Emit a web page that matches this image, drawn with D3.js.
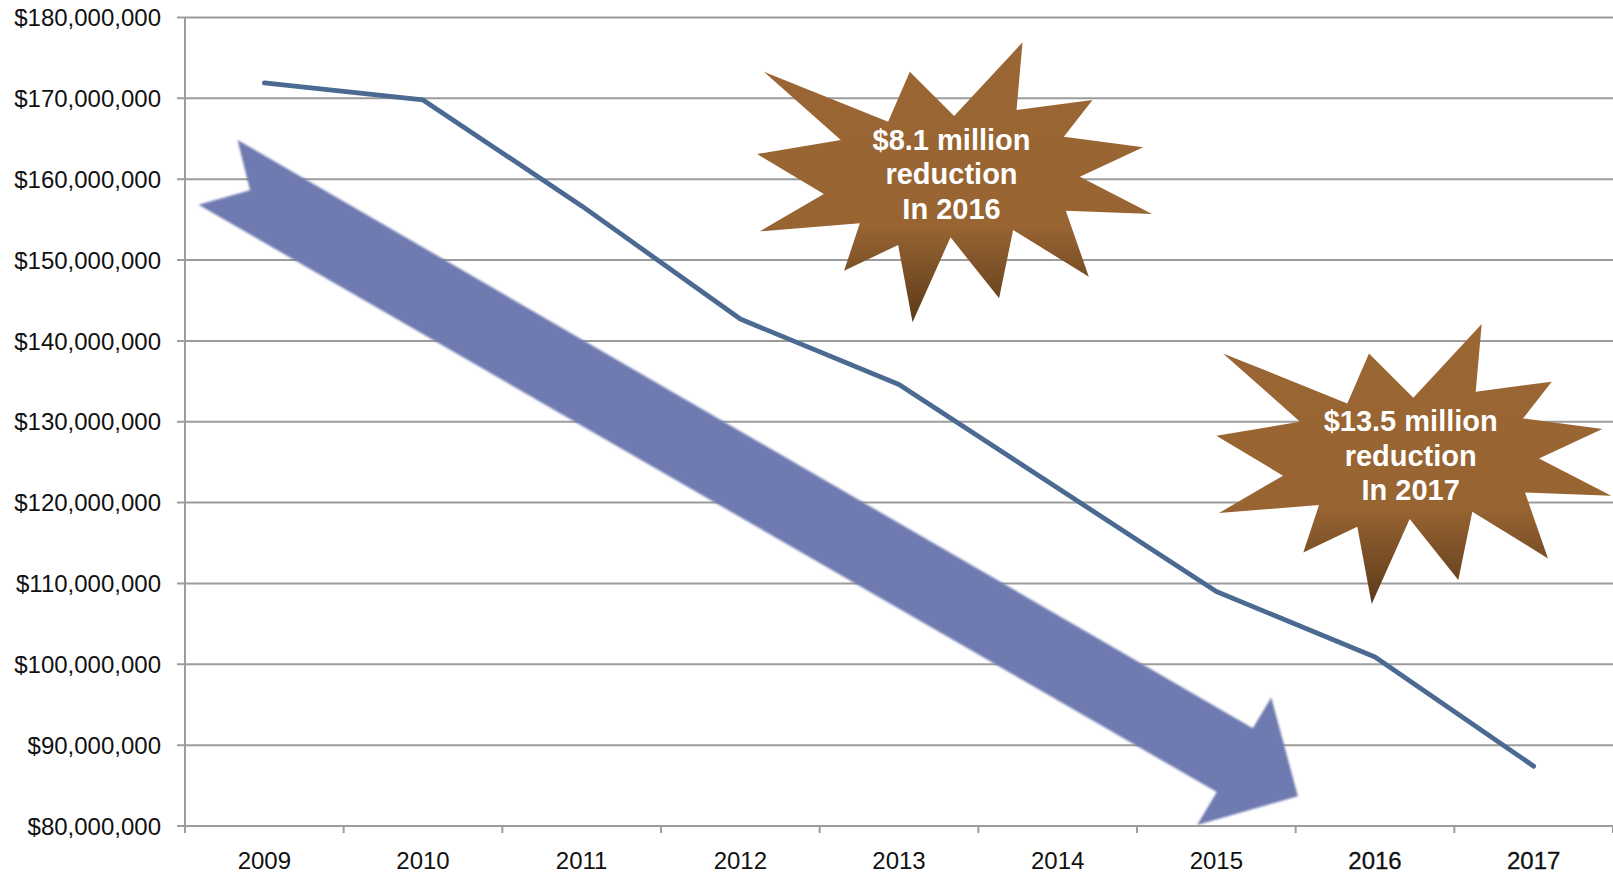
<!DOCTYPE html>
<html><head><meta charset="utf-8">
<script src="https://cdn.jsdelivr.net/npm/d3@7"></script>
<style>html,body{margin:0;padding:0;background:#fff;} svg{display:block}</style>
</head><body>
<svg id="chart" width="1613" height="873"></svg>
<script>
// ---- data ----
const years = ["2009","2010","2011","2012","2013","2014","2015","2016","2017"];
const spending = [171.9e6, 169.8e6, 156.7e6, 142.7e6, 134.6e6, 121.8e6, 109.0e6, 100.9e6, 87.4e6];
const yTicks = [80e6, 90e6, 100e6, 110e6, 120e6, 130e6, 140e6, 150e6, 160e6, 170e6, 180e6];
const calloutText1 = ["$8.1 million", "reduction", "In 2016"];
const calloutText2 = ["$13.5 million", "reduction", "In 2017"];
// callout anchors in data space: [category index, value]
const calloutAnchors = [[4.331, 160.64e6], [7.225, 125.8e6]];
// trend arrow outline in data space: [category index, value]
const trendArrow = [[-0.169,164.86e6],[6.230,92.1e6],[6.346,95.9e6],[6.514,83.69e6],[5.879,80.12e6],[6.003,84.2e6],[-0.415,156.85e6],[-0.090,158.63e6]];
const boldYears = ["2016","2017"];

// ---- layout ----
const W = 1613, H = 873;
const m = {left:185, right:0, top:17.5, bottom:47};
const svg = d3.select("#chart");

const x = d3.scaleBand().domain(years).range([m.left, W - m.right]).paddingInner(0).paddingOuter(0);
const xi = d3.scaleLinear().domain([0, 1]).range([m.left + x.bandwidth()/2, m.left + x.bandwidth()*1.5]);
const y = d3.scaleLinear().domain([80e6, 180e6]).range([826, m.top]);

const defs = svg.append("defs");
const grad = defs.append("linearGradient").attr("id","burst").attr("x1",0).attr("y1",0).attr("x2",0).attr("y2",1);
grad.append("stop").attr("offset","0%").attr("stop-color","#9A6634");
grad.append("stop").attr("offset","66%").attr("stop-color","#976432");
grad.append("stop").attr("offset","100%").attr("stop-color","#5C3A1A");
const blur = defs.append("filter").attr("id","soft").attr("x","-5%").attr("y","-5%").attr("width","110%").attr("height","110%");
blur.append("feGaussianBlur").attr("stdDeviation",0.8);

// gridlines
const gridColor = "#9C9C9C";
svg.append("g").selectAll("line").data(yTicks).join("line")
  .attr("x1", m.left - 8).attr("x2", W)
  .attr("y1", d => y(d)).attr("y2", d => y(d))
  .attr("stroke", gridColor).attr("stroke-width", 2);

// y axis line
svg.append("line").attr("x1", m.left).attr("x2", m.left).attr("y1", y(180e6)).attr("y2", y(80e6) + 7)
  .attr("stroke", gridColor).attr("stroke-width", 2);

// x ticks (band boundaries)
const bounds = years.map(d => x(d)).concat([x(years[years.length-1]) + x.bandwidth()]);
svg.append("g").selectAll("line").data(bounds.slice(1)).join("line")
  .attr("x1", d => d).attr("x2", d => d).attr("y1", y(80e6)).attr("y2", y(80e6) + 7)
  .attr("stroke", gridColor).attr("stroke-width", 2);

// y labels
const fmt = d3.format("$,");
svg.append("g").selectAll("text").data(yTicks).join("text")
  .attr("x", 161).attr("y", d => y(d)).attr("dy", "0.36em")
  .attr("text-anchor", "end")
  .attr("font-family", "Liberation Sans, Arial, sans-serif").attr("font-size", 24)
  .attr("fill", "#111").text(d => fmt(d));

// x labels
svg.append("g").selectAll("text").data(years).join("text")
  .attr("x", d => x(d) + x.bandwidth()/2).attr("y", 869)
  .attr("text-anchor", "middle")
  .attr("font-family", "Liberation Sans, Arial, sans-serif").attr("font-size", 24)
  .attr("fill", "#111")
  .attr("stroke", d => boldYears.includes(d) ? "#111" : "none")
  .attr("stroke-width", 0.3)
  .text(d => d);

// trend arrow
svg.append("path")
  .attr("d", d3.line().x(d => xi(d[0])).y(d => y(d[1]))(trendArrow) + "Z")
  .attr("fill", "#6E7AB0").attr("filter", "url(#soft)");

// data line
svg.append("path").datum(spending)
  .attr("d", d3.line().x((d,i) => x(years[i]) + x.bandwidth()/2).y(d => y(d)))
  .attr("fill", "none").attr("stroke", "#4B6A92").attr("stroke-width", 4.8)
  .attr("stroke-linecap", "round").attr("stroke-linejoin", "round");

// starburst callouts (shape in px relative to anchor)
const burstShape = [[-187.7,-102.3],[-63.4,-52.3],[-41.7,-102.3],[2.6,-58],[71,-131.7],[65,-64],[141,-74],[112.3,-37.3],[191.6,-26.7],[128.3,2.7],[200.6,40],[114.3,36.7],[137.3,102.7],[61.6,56],[47.6,124.3],[-1,63.3],[-39,148.3],[-53.4,71],[-107.4,96.7],[-91.7,49.3],[-191.7,57.3],[-127.7,20],[-194.4,-20],[-110.7,-34]];
const texts = [calloutText1, calloutText2];
calloutAnchors.forEach((a, k) => {
  const g = svg.append("g").attr("transform", `translate(${xi(a[0])},${y(a[1])})`);
  g.append("path").attr("d", d3.line()(burstShape) + "Z").attr("fill", "url(#burst)");
  g.selectAll("text").data(texts[k]).join("text")
    .attr("x", 0).attr("y", (d,i) => -24.5 + i*34.5)
    .attr("text-anchor", "middle")
    .attr("font-family", "Liberation Sans, Arial, sans-serif").attr("font-weight", "bold")
    .attr("font-size", 29).attr("fill", "#fff").text(d => d);
});
</script>
</body></html>
